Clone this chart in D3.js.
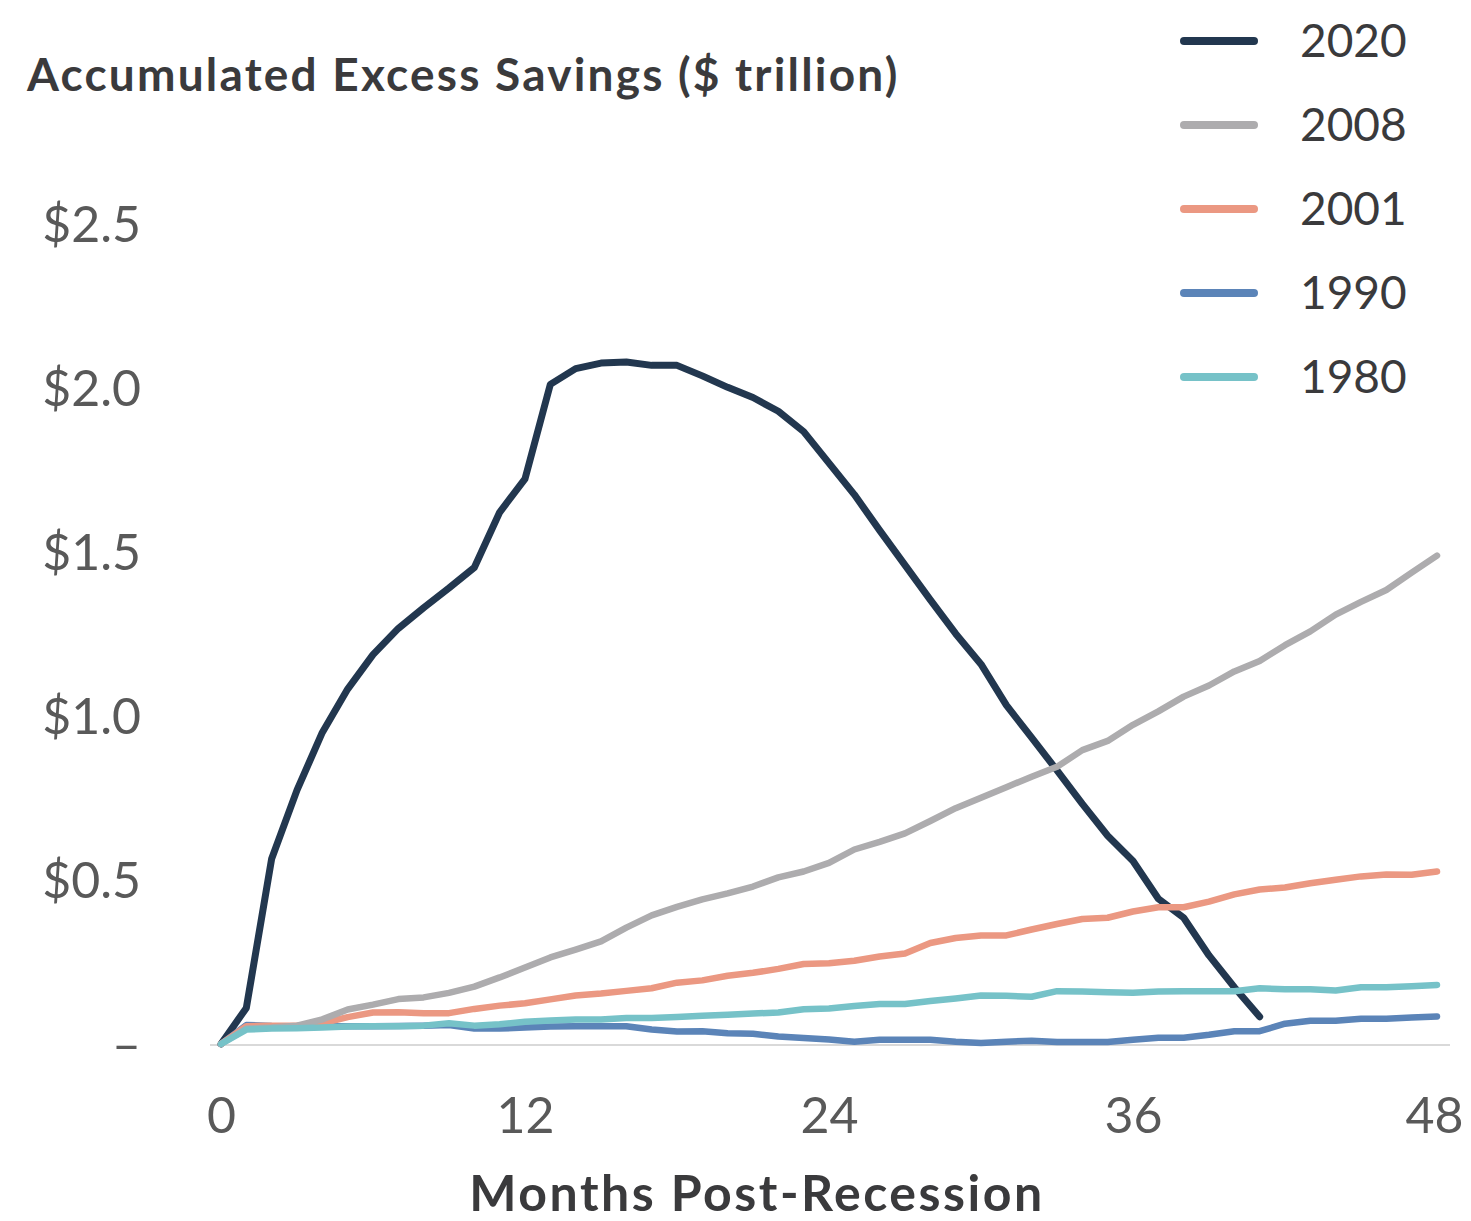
<!DOCTYPE html>
<html>
<head>
<meta charset="utf-8">
<script src="https://cdn.jsdelivr.net/npm/d3@7"></script>
<style>
  html, body { margin: 0; padding: 0; background: #fff; }
  svg { display: block; }
</style>
</head>
<body>
<svg id="chart" width="1471" height="1221"></svg>
<script>
// Months after the start of each recession
const months = d3.range(0, 49);

// Accumulated excess savings, $ trillion, one value per month
const s2020 = [0, 0.11, 0.565, 0.774, 0.95, 1.082, 1.187, 1.267, 1.33, 1.39, 1.453, 1.621, 1.723,
  2.011, 2.059, 2.076, 2.079, 2.069, 2.069, 2.037, 2.002, 1.971, 1.929, 1.867, 1.771, 1.675,
  1.566, 1.46, 1.354, 1.251, 1.158, 1.033, 0.934, 0.834, 0.732, 0.635, 0.558, 0.443, 0.385,
  0.27, 0.173, 0.083];
const s2008 = [0, 0.047, 0.05, 0.056, 0.075, 0.105, 0.12, 0.137, 0.142, 0.156, 0.175, 0.203, 0.233,
  0.264, 0.288, 0.313, 0.355, 0.392, 0.418, 0.441, 0.459, 0.48, 0.508, 0.526, 0.552, 0.593,
  0.616, 0.642, 0.68, 0.719, 0.751, 0.783, 0.815, 0.845, 0.896, 0.924, 0.973, 1.014, 1.059,
  1.093, 1.136, 1.168, 1.216, 1.258, 1.309, 1.348, 1.384, 1.437, 1.489];
const s2001 = [0, 0.054, 0.056, 0.056, 0.063, 0.082, 0.096, 0.097, 0.094, 0.094, 0.107, 0.117, 0.124,
  0.136, 0.148, 0.154, 0.162, 0.17, 0.187, 0.194, 0.208, 0.217, 0.229, 0.244, 0.246, 0.254,
  0.267, 0.276, 0.308, 0.323, 0.331, 0.331, 0.349, 0.366, 0.381, 0.385, 0.404, 0.417, 0.417,
  0.434, 0.456, 0.471, 0.477, 0.49, 0.501, 0.511, 0.517, 0.516, 0.526];
const s1990 = [0, 0.058, 0.055, 0.054, 0.054, 0.054, 0.054, 0.055, 0.056, 0.058, 0.047, 0.047, 0.05,
  0.053, 0.054, 0.054, 0.054, 0.044, 0.038, 0.039, 0.033, 0.031, 0.023, 0.018, 0.014, 0.007,
  0.013, 0.013, 0.013, 0.007, 0.003, 0.007, 0.01, 0.006, 0.006, 0.006, 0.013, 0.019, 0.019,
  0.028, 0.039, 0.039, 0.062, 0.071, 0.071, 0.077, 0.077, 0.081, 0.084];
const s1980 = [0, 0.044, 0.047, 0.048, 0.05, 0.053, 0.054, 0.054, 0.056, 0.063, 0.056, 0.06, 0.068,
  0.072, 0.075, 0.075, 0.079, 0.079, 0.082, 0.086, 0.089, 0.093, 0.096, 0.106, 0.108, 0.116,
  0.122, 0.122, 0.131, 0.139, 0.148, 0.147, 0.144, 0.161, 0.16, 0.158, 0.156, 0.16, 0.161,
  0.161, 0.161, 0.17, 0.167, 0.167, 0.163, 0.173, 0.173, 0.176, 0.18];

const legendYears = ["2020", "2008", "2001", "1990", "1980"];
const xTicks = [0, 12, 24, 36, 48];
const yTicks = [0, 0.5, 1.0, 1.5, 2.0, 2.5];
const yTickLabels = ["–", "$0.5", "$1.0", "$1.5", "$2.0", "$2.5"];

const seriesByYear = { "2020": s2020, "2008": s2008, "2001": s2001, "1990": s1990, "1980": s1980 };
const colors = { "2020": "#22374f", "2008": "#adacae", "2001": "#eb9882", "1990": "#5b84b8", "1980": "#76c2c8" };
// bottom-to-top stacking of the lines
const drawOrder = ["2020", "1990", "2001", "2008", "1980"];

const svg = d3.select("#chart");
const FONT = "Lato, 'Noto Sans', sans-serif";

const x = d3.scaleLinear().domain([0, 48]).range([221, 1437]);
const y = d3.scaleLinear().domain([0, 2.5]).range([1044, 224]);

// zero baseline
svg.append("line")
  .attr("x1", 210).attr("x2", 1450)
  .attr("y1", y(0) + 1).attr("y2", y(0) + 1)
  .attr("stroke", "#d9d9d9").attr("stroke-width", 2);

// y axis labels
const yAxis = d3.axisLeft(y).tickValues(yTicks)
  .tickFormat((d, i) => yTickLabels[i]).tickSize(0).tickPadding(0);
const gy = svg.append("g").attr("transform", "translate(141,0)").call(yAxis);
gy.select(".domain").remove();
gy.selectAll("text")
  .attr("font-family", FONT).attr("font-size", 50).attr("fill", "#595959")
  .attr("dy", "0.35em");

// x axis labels
const xAxis = d3.axisBottom(x).tickValues(xTicks).tickSize(0).tickPadding(0);
const gx = svg.append("g").attr("transform", "translate(0,1097)").call(xAxis);
gx.select(".domain").remove();
gx.selectAll("text")
  .attr("font-family", FONT).attr("font-size", 50).attr("fill", "#595959")
  .attr("dy", "0.71em")
  .attr("text-anchor", d => d === 48 ? "end" : "middle")
  .attr("dx", d => d === 48 ? 26 : 0);

// titles
svg.append("text")
  .attr("x", 27).attr("y", 91)
  .attr("font-family", FONT).attr("font-size", 46).attr("font-weight", 700)
  .attr("letter-spacing", 2.2)
  .attr("fill", "#3a3a3c")
  .text("Accumulated Excess Savings ($ trillion)");

svg.append("text")
  .attr("x", 757).attr("y", 1211)
  .attr("text-anchor", "middle")
  .attr("font-family", FONT).attr("font-size", 50).attr("font-weight", 700)
  .attr("letter-spacing", 2.5)
  .attr("fill", "#3a3a3c")
  .text("Months Post-Recession");

// series lines
const line = d3.line().x((d, i) => x(months[i])).y(d => y(d));
svg.append("g").selectAll("path")
  .data(drawOrder)
  .join("path")
  .attr("d", k => line(seriesByYear[k]))
  .attr("fill", "none")
  .attr("stroke", k => colors[k])
  .attr("stroke-width", k => k === "2020" ? 7 : 6.5)
  .attr("stroke-linejoin", "round")
  .attr("stroke-linecap", "round");

// legend
const legend = svg.append("g").selectAll("g")
  .data(legendYears)
  .join("g")
  .attr("transform", (d, i) => `translate(0,${41 + i * 84})`);
legend.append("line")
  .attr("x1", 1184).attr("x2", 1254)
  .attr("stroke", d => colors[d]).attr("stroke-width", 8)
  .attr("stroke-linecap", "round");
legend.append("text")
  .attr("x", 1300).attr("dy", "0.35em")
  .attr("font-family", FONT).attr("font-size", 46).attr("fill", "#3a3a3c")
  .text(d => d);
</script>
</body>
</html>
